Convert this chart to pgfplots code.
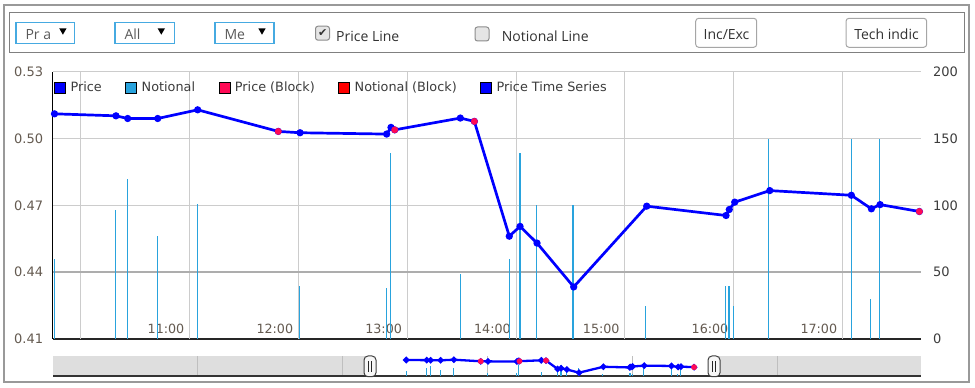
\documentclass[border=0pt]{standalone}
\usepackage{fontspec}
\setmainfont{DejaVu Sans}
\newfontfamily\os{Open Sans}
\usepackage{pgfplots}
\usepackage{pgfplotstable}
\pgfplotsset{compat=1.18}

\definecolor{pblue}{RGB}{0,0,255}
\definecolor{nblue}{RGB}{41,163,221}
\definecolor{pblock}{RGB}{255,10,85}
\definecolor{nblock}{RGB}{255,0,0}
\definecolor{gridc}{RGB}{204,204,204}
\definecolor{tickc}{RGB}{100,90,80}
\definecolor{rtickc}{RGB}{60,60,60}
\definecolor{legtext}{RGB}{60,60,60}
\definecolor{ddblue}{RGB}{70,170,225}
\definecolor{uitext}{RGB}{50,50,50}

\pgfplotstableread{
h p
9.975 0.5112
10.540 0.5103
10.648 0.5091
10.924 0.5091
11.291 0.5130
12.032 0.5033
12.232 0.5027
13.028 0.5021
13.068 0.5051
13.102 0.5040
13.705 0.5093
13.834 0.5078
14.155 0.4562
14.254 0.4606
14.410 0.4531
14.747 0.4334
15.418 0.4697
16.147 0.4655
16.177 0.4682
16.227 0.4715
16.549 0.4767
17.299 0.4746
17.483 0.4685
17.563 0.4704
17.924 0.4673
}\pricedata

\pgfplotstableread{
h p
12.032 0.5033
13.102 0.5040
13.834 0.5078
17.924 0.4673
}\blockdata

\pgfplotstableread{
h n
9.973 60
10.538 97
10.644 120
10.920 77
11.288 101
12.225 40
13.025 38
13.061 139
13.705 49
14.155 60
14.247 139
14.257 139
14.407 100
14.741 100
15.405 25
16.144 40
16.175 40
16.214 25
16.540 150
17.299 150
17.474 30
17.560 150
}\notdata

\begin{document}
\begin{tikzpicture}
\begin{scope}[x=1pt,y=1pt]
% outer frame
\draw[line width=2pt, color=black!40] (4.3,6.3) rectangle (968.5,382.7);
% toolbar frame
\draw[line width=1.5pt, color=black!50] (9.3,335.7) rectangle (964.3,375.7);

% dropdowns
\foreach \xa/\xb/\tx/\ar/\lab in {16/74.7/25.3/62.9/{Pr a},115/174.3/124.3/161.3/All,215/274/224.3/262/Me}{
  \draw[ddblue, line width=1.3pt] (\xa,344.7) rectangle (\xb,365.7);
  \node[anchor=base west, inner sep=0pt, text=black!65] at (\tx,348.2) {\os\fontsize{14}{16}\selectfont \lab};
  \fill[black] (\ar-3.7,359.7) -- (\ar+3.7,359.7) -- (\ar,353.3) -- cycle;
}

% checkboxes
\draw[rounded corners=2.5pt, draw=black!45, fill=black!10, line width=1pt] (315.5,347.8) rectangle (329.5,361.8);
\node[inner sep=0pt, text=black!80] at (322.8,355.2) {\fontsize{11}{11}\selectfont ✔};
\node[anchor=base west, inner sep=0pt, text=uitext] at (336,346.8) {\os\fontsize{14}{16}\selectfont Price Line};
\draw[rounded corners=2.5pt, draw=black!45, fill=black!10, line width=1pt] (475,347.0) rectangle (489,361.0);
\node[anchor=base west, inner sep=0pt, text=uitext] at (501.7,346.8) {\os\fontsize{14}{16}\selectfont Notional Line};

% buttons
\draw[rounded corners=3pt, draw=black!35, fill=white, line width=1pt] (695.7,340.7) rectangle (756.7,369.7);
\node[anchor=base, inner sep=0pt, text=uitext] at (726.5,348.7) {\os\fontsize{14}{16}\selectfont Inc/Exc};
\draw[rounded corners=3pt, draw=black!35, fill=white, line width=1pt] (846,340.7) rectangle (926.7,369.7);
\node[anchor=base, inner sep=0pt, text=uitext] at (886.5,348.7) {\os\fontsize{14}{16}\selectfont Tech indic};

% navigator shading
\fill[black!13] (53,12) rectangle (370,32);
\fill[black!13] (714,12) rectangle (921,32);
\end{scope}

% ---------- main chart: notional (right axis) ----------
\begin{axis}[
  at={(53pt,49pt)}, anchor=south west,
  scale only axis, width=868pt, height=267pt,
  xmin=9.9614, xmax=17.939, ymin=0, ymax=200,
  axis x line*=bottom, axis y line*=right,
  y axis line style={draw=none},
  x axis line style={black!85, line width=1.3pt},
  major tick length=0pt,
  xtick={11,12,13,14,15,16,17},
  xticklabels={11:00,12:00,13:00,14:00,15:00,16:00,17:00},
  xticklabel style={anchor=base, yshift=5pt, inner sep=0pt, text=tickc, font=\fontsize{12.7}{14}\selectfont},
  extra x ticks={10.218,11.218,12.218,13.218,14.218,15.218,16.218,17.218},
  extra x tick labels={},
  extra x tick style={xmajorgrids=true, major grid style={gridc, line width=1pt}},
  ytick={0,50,100,150,200},
  ymajorgrids, major grid style={gridc, line width=1pt},
  extra y ticks={50}, extra y tick labels={},
  extra y tick style={ymajorgrids=true, major grid style={black!32, line width=2pt}},
  yticklabel style={anchor=west, inner sep=0pt, xshift=12pt, text=rtickc, font=\fontsize{13}{14}\selectfont},
  /pgf/number format/assume math mode=true,
]
\addplot[ycomb, nblue, line width=1.4pt, no marks] table[x=h,y=n]{\notdata};
\end{axis}

% ---------- main chart: price (left axis) ----------
\begin{axis}[
  at={(53pt,49pt)}, anchor=south west,
  scale only axis, width=868pt, height=267pt,
  xmin=9.9614, xmax=17.939, ymin=0.41, ymax=0.53,
  axis y line*=left, axis x line=none,
  y axis line style={black, line width=1pt},
  major tick length=0pt,
  ytick={0.41,0.44,0.47,0.50,0.53},
  yticklabels={0.41,0.44,0.47,0.50,0.53},
  yticklabel style={anchor=east, inner sep=0pt, xshift=-9.7pt, text=tickc, font=\fontsize{13}{14}\selectfont},
  clip=false,
  legend columns=5,
  legend image code/.code={\path[#1] (0pt,-5.5pt) rectangle (11pt,5.5pt);},
  legend style={draw=none, fill=none, at={(rel axis cs:0,1)}, anchor=north west,
    xshift=1pt, yshift=-9pt, inner xsep=0pt, inner ysep=0pt,
    font=\fontsize{12.8}{14}\selectfont,
    nodes={inner xsep=0pt, inner ysep=1pt, text=legtext},
    /tikz/every odd column/.style={column sep=5pt},
    /tikz/every even column/.style={column sep=23.5pt}},
]
\addplot[pblue, line width=2.7pt, mark=*, mark size=2.2pt, mark options={fill=pblue, draw=pblue}, forget plot] table[x=h,y=p]{\pricedata};
\addplot[only marks, mark=*, mark size=3.2pt, mark options={fill=pblock, draw=pblock}, forget plot] table[x=h,y=p]{\blockdata};
\addlegendimage{fill=pblue}
\addlegendentry{Price}
\addlegendimage{fill=nblue}
\addlegendentry{Notional}
\addlegendimage{fill=pblock}
\addlegendentry{Price (Block)}
\addlegendimage{fill=nblock}
\addlegendentry{Notional (Block)}
\addlegendimage{fill=pblue}
\addlegendentry{Price Time Series}
\end{axis}

% ---------- navigator ----------
\begin{axis}[
  at={(53pt,12pt)}, anchor=south west,
  scale only axis, width=868pt, height=20pt,
  xmin=0.22, xmax=24.19, ymin=0, ymax=250,
  axis x line*=bottom, axis y line=none,
  x axis line style={black!80, line width=1.2pt},
  major tick length=0pt,
  xtick={4.22,8.22,12.22,16.22,20.22}, xticklabels={},
  xmajorgrids, major grid style={black!25, line width=1pt},
  ytick=\empty,
]
\addplot[ycomb, nblue, line width=1pt, no marks] table[x=h,y=n]{\notdata};
\end{axis}

\begin{axis}[
  at={(53pt,12pt)}, anchor=south west,
  scale only axis, width=868pt, height=20pt,
  xmin=0.22, xmax=24.19, ymin=0.4132, ymax=0.5357,
  hide axis, clip=false,
]
\addplot[pblue, line width=2.3pt, mark=*, mark size=1.9pt, mark options={fill=pblue, draw=pblue}] table[x=h,y=p]{\pricedata};
\addplot[only marks, mark=*, mark size=2.7pt, mark options={fill=pblock, draw=pblock}] table[x=h,y=p]{\blockdata};
\end{axis}

\begin{scope}[x=1pt,y=1pt]
% navigator handles
\foreach \hx in {370,714}{
  \draw[rounded corners=4pt, fill=black!3, draw=black!75, line width=1pt] (\hx-6,11.3) rectangle (\hx+6,32);
  \draw[black!85, line width=0.9pt] (\hx-1.4,16) -- (\hx-1.4,27);
  \draw[black!85, line width=0.9pt] (\hx+1.4,16) -- (\hx+1.4,27);
}
\pgfresetboundingbox
\path[use as bounding box] (0,0) rectangle (975,388);
\end{scope}
\end{tikzpicture}
\end{document}
